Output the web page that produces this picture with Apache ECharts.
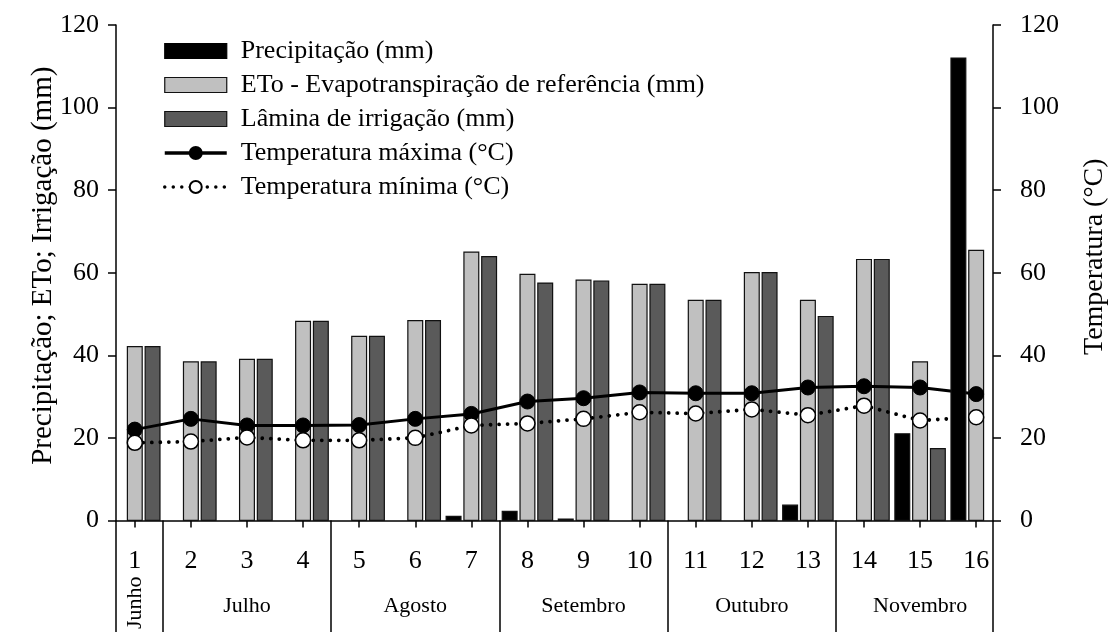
<!DOCTYPE html>
<html><head><meta charset="utf-8">
<script src="https://cdn.jsdelivr.net/npm/echarts@6/dist/echarts.min.js"></script>
<style>html,body{margin:0;padding:0;background:#fff}#c{width:1117px;height:632px}</style>
</head><body><div id="c"></div>
<script>
// ---- data ----
const periods = [1,2,3,4,5,6,7,8,9,10,11,12,13,14,15,16];
const periodLabels = ['1','2','3','4','5','6','7','8','9','10','11','12','13','14','15','16'];
const precip = [0,0,0,0,0,0,1.0,2.2,0.3,0,0,0,3.7,0,21.0,112.0];
const eto = [42.1,38.4,39.0,48.2,44.6,48.4,65.0,59.6,58.2,57.2,53.3,60.0,53.3,63.2,38.4,65.4];
const irrigation = [42.1,38.4,39.0,48.2,44.6,48.4,63.9,57.5,58.0,57.2,53.3,60.0,49.4,63.2,17.4,null];
const tempMax = [22.0,24.6,23.0,23.0,23.1,24.6,25.8,28.8,29.6,31.0,30.8,30.8,32.2,32.5,32.2,30.6];
const tempMin = [18.8,19.1,20.1,19.4,19.4,20.0,23.0,23.5,24.6,26.2,25.9,26.9,25.5,27.8,24.2,25.0];
const monthNames = ['Junho','Julho','Agosto','Setembro','Outubro','Novembro'];
const monthFirst = [1,2,5,8,11,14];
const monthLast = [1,4,7,10,13,16];
const seriesNames = ['Precipitação (mm)','ETo - Evapotranspiração de referência (mm)','Lâmina de irrigação (mm)','Temperatura máxima (°C)','Temperatura mínima (°C)'];

// ---- layout / style ----
const FONT = 'Liberation Serif';
const xMin = 0.665, xMax = 16.30;
const BAR_W = 0.264, BAR_STEP = 0.317;
const C_PRE = '#000000', C_ETO = '#c0c0c0', C_IRR = '#5a5a5a';

function barSeries(name, values, offset, fill, z) {
  return {
    type: 'custom', name: name, z: z,
    xAxisIndex: 0, yAxisIndex: 0,
    data: periods.map((p, i) => [p, values[i]]),
    encode: {x: 0, y: 1},
    itemStyle: {color: fill, borderColor: '#111', borderWidth: 1.2},
    renderItem: function (params, api) {
      const x = api.value(0), v = api.value(1);
      if (!(v > 0)) return null;
      const base = api.coord([x + offset, 0]);
      const top = api.coord([x + offset, v]);
      const w = api.size([BAR_W, 0])[0];
      return {type: 'rect',
        shape: {x: base[0] - w / 2, y: top[1], width: w, height: base[1] - top[1]},
        style: {fill: fill, stroke: '#111', lineWidth: 1.2}};
    }
  };
}

const boundaries = [xMin].concat(monthLast.slice(0, -1).map(v => v + 0.5)).concat([xMax]);
const centers = monthFirst.map((f, i) => (f + monthLast[i]) / 2);

const chart = echarts.init(document.getElementById('c'), null, {renderer: 'canvas'});
chart.setOption({
  animation: false,
  backgroundColor: '#fff',
  grid: {left: 116, right: 1117 - 1003, top: 25, bottom: 107, containLabel: false},
  legend: {
    orient: 'vertical', left: 163, top: 38, padding: 0, itemWidth: 62, itemHeight: 15, itemGap: 8,
    textStyle: {fontFamily: FONT, fontSize: 26, color: '#000', lineHeight: 26, padding: [0, 0, 0, 9]},
    data: [
      {name: seriesNames[0], icon: 'rect', itemStyle: {color: C_PRE, borderColor: '#000', borderWidth: 1.2}},
      {name: seriesNames[1], icon: 'rect', itemStyle: {color: C_ETO, borderColor: '#111', borderWidth: 1.2}},
      {name: seriesNames[2], icon: 'rect', itemStyle: {color: C_IRR, borderColor: '#111', borderWidth: 1.2}},
      {name: seriesNames[3], lineStyle: {width: 3.5, color: '#000'}},
      {name: seriesNames[4], lineStyle: {width: 3.5, color: '#000'}}
    ]
  },
  xAxis: [
    {
      type: 'value', position: 'bottom', min: xMin, max: xMax,
      axisLine: {show: true, onZero: false, lineStyle: {color: '#000', width: 1.5}},
      axisTick: {show: true, customValues: periods, length: 7, lineStyle: {color: '#000', width: 1.5}},
      axisLabel: {customValues: periods, formatter: v => periodLabels[periods.indexOf(Math.round(v))],
        fontFamily: FONT, fontSize: 26, color: '#000', margin: 28},
      splitLine: {show: false}
    },
    {
      type: 'value', position: 'bottom', min: xMin, max: xMax,
      axisLine: {show: false},
      axisTick: {show: true, customValues: boundaries, length: 112, lineStyle: {color: '#000', width: 1.5}},
      axisLabel: {customValues: centers.slice(1),
        formatter: v => monthNames[centers.indexOf(v)],
        fontFamily: FONT, fontSize: 22, color: '#000', margin: 75},
      splitLine: {show: false}
    },
    {
      type: 'value', position: 'bottom', min: xMin, max: xMax,
      axisLine: {show: false}, axisTick: {show: false},
      axisLabel: {customValues: [centers[0]], formatter: () => monthNames[0], rotate: 90,
        fontFamily: FONT, fontSize: 22, color: '#000', margin: 56},
      splitLine: {show: false}
    }
  ],
  yAxis: [
    {
      type: 'value', position: 'left', min: 0, max: 120, interval: 20,
      name: 'Precipitação; ETo; Irrigação (mm)', nameLocation: 'middle', nameRotate: 90,
      nameGap: 58, nameMoveOverlap: false,
      nameTextStyle: {fontFamily: FONT, fontSize: 29, color: '#000', padding: [0, 0, 0, 14]},
      axisLine: {show: true, lineStyle: {color: '#000', width: 1.5}},
      axisTick: {show: true, length: 8, lineStyle: {color: '#000', width: 1.5}},
      axisLabel: {fontFamily: FONT, fontSize: 26, color: '#000', margin: 17},
      splitLine: {show: false}
    },
    {
      type: 'value', position: 'right', min: 0, max: 120, interval: 20,
      name: 'Temperatura (°C)', nameLocation: 'middle', nameRotate: 90,
      nameGap: 88, nameMoveOverlap: false,
      nameTextStyle: {fontFamily: FONT, fontSize: 28, color: '#000', padding: [0, 0, 0, 32]},
      axisLine: {show: true, lineStyle: {color: '#000', width: 1.5}},
      axisTick: {show: true, length: 8, lineStyle: {color: '#000', width: 1.5}},
      axisLabel: {fontFamily: FONT, fontSize: 26, color: '#000', margin: 27},
      splitLine: {show: false}
    }
  ],
  series: [
    barSeries(seriesNames[1], eto, 0, C_ETO, 2),
    barSeries(seriesNames[2], irrigation, BAR_STEP, C_IRR, 2),
    {
      type: 'line', name: seriesNames[3], xAxisIndex: 0, yAxisIndex: 1, z: 3,
      data: periods.map((p, i) => [p, tempMax[i]]),
      symbol: 'circle', symbolSize: 15,
      itemStyle: {color: '#000', borderColor: '#000', borderWidth: 1},
      lineStyle: {color: '#000', width: 3}
    },
    {
      type: 'line', name: seriesNames[4], xAxisIndex: 0, yAxisIndex: 1, z: 3,
      data: periods.map((p, i) => [p, tempMin[i]]),
      symbol: 'circle', symbolSize: 15,
      itemStyle: {color: '#fff', borderColor: '#000', borderWidth: 1.5},
      lineStyle: {color: '#000', width: 3.8, type: [0.01, 8.5], cap: 'round'}
    },
    barSeries(seriesNames[0], precip, -BAR_STEP, C_PRE, 4)
  ]
});
</script>
</body></html>
